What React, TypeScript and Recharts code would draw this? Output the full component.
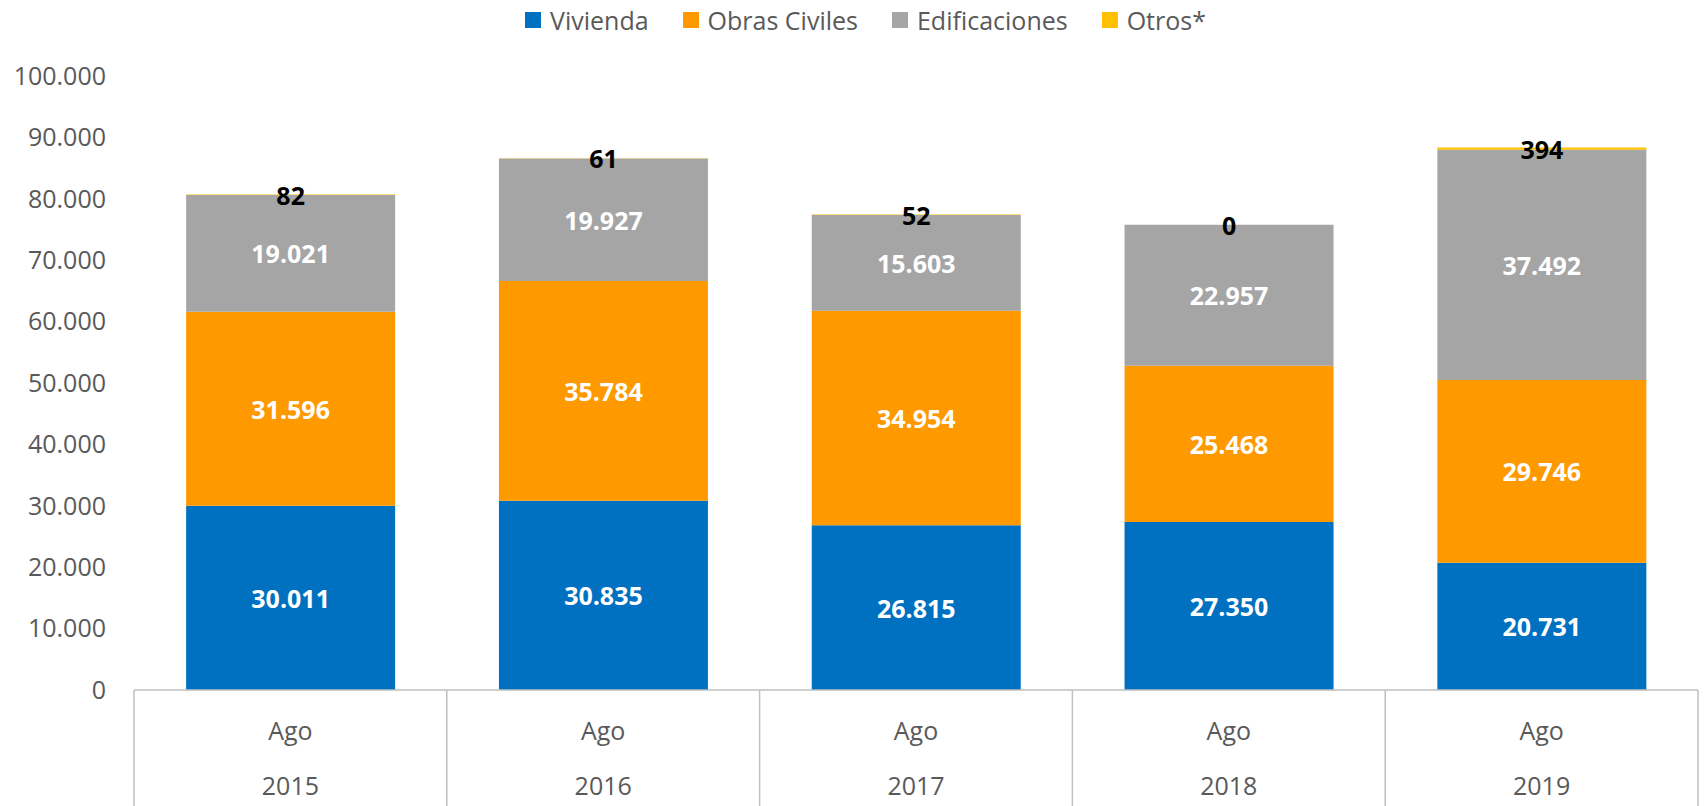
import React from 'react';
import { BarChart, Bar, XAxis, YAxis, LabelList } from 'recharts';

const years = ['2015', '2016', '2017', '2018', '2019'];
const month = 'Ago';
const vivienda = [30011, 30835, 26815, 27350, 20731];
const obrasCiviles = [31596, 35784, 34954, 25468, 29746];
const edificaciones = [19021, 19927, 15603, 22957, 37492];
const otros = [82, 61, 52, 0, 394];
const yTicks = [0, 10000, 20000, 30000, 40000, 50000, 60000, 70000, 80000, 90000, 100000];

const series = [
  { key: 'vivienda', name: 'Vivienda', color: '#0070C0' },
  { key: 'obrasCiviles', name: 'Obras Civiles', color: '#FF9900' },
  { key: 'edificaciones', name: 'Edificaciones', color: '#A5A5A5' },
  { key: 'otros', name: 'Otros*', color: '#FFC000' },
];

const data = years.map((year, i) => ({
  year,
  vivienda: vivienda[i],
  obrasCiviles: obrasCiviles[i],
  edificaciones: edificaciones[i],
  otros: otros[i],
}));

const FONT = '"Open Sans", "Noto Sans", sans-serif';
const TEXT = '#595959';
const LINE = '#BFBFBF';

const fmt = (v: any) => String(v).replace(/\B(?=(\d{3})+(?!\d))/g, '.');

const labelText = (x: number, y: number, value: any, color: string, key: string) => (
  <text key={key} x={x} y={y} textAnchor="middle" dominantBaseline="central" fill={color} fontSize={25} fontWeight="bold">
    {fmt(value)}
  </text>
);

const segmentLabel = (props: any) => {
  const { viewBox, value } = props;
  if (!viewBox || value === undefined || value === null) return null;
  return labelText(viewBox.x + viewBox.width / 2, viewBox.y + viewBox.height / 2, value, '#FFFFFF', 'v');
};

// the grey segment also carries the "Otros" label just above it, because a
// zero-height Otros segment gets no label of its own
const edificacionesLabel = (props: any) => {
  const { viewBox, value, index } = props;
  if (!viewBox || value === undefined || value === null) return null;
  const cx = viewBox.x + viewBox.width / 2;
  const other = otros[index];
  const perUnit = viewBox.height / value;
  const otherH = other * perUnit;
  return (
    <g>
      {labelText(cx, viewBox.y + viewBox.height / 2, value, '#FFFFFF', 'e')}
      {other !== undefined && labelText(cx, viewBox.y - otherH / 2, other, '#000000', 'o')}
    </g>
  );
};

const CategoryTick = (props: any) => {
  const { x, y, payload, index, visibleTicksCount, width } = props;
  const band = (width || 1564) / (visibleTicksCount || 5);
  const left = x - band / 2;
  const right = x + band / 2;
  return (
    <g>
      <line x1={left} y1={y} x2={left} y2={y + 120} stroke={LINE} strokeWidth={1.5} />
      {index === visibleTicksCount - 1 && (
        <line x1={right} y1={y} x2={right} y2={y + 120} stroke={LINE} strokeWidth={1.5} />
      )}
      <text x={x} y={y + 40} textAnchor="middle" dominantBaseline="central" fill={TEXT} fontSize={25}>
        {month}
      </text>
      <text x={x} y={y + 95} textAnchor="middle" dominantBaseline="central" fill={TEXT} fontSize={25}>
        {payload.value}
      </text>
    </g>
  );
};

const ChartLegend = () => (
  <div
    style={{
      position: 'absolute',
      left: 525,
      top: 3,
      display: 'flex',
      alignItems: 'center',
      gap: 34,
      fontSize: 25,
      color: TEXT,
      fontFamily: FONT,
      whiteSpace: 'nowrap',
    }}
  >
    {series.map((s) => (
      <div key={s.key} style={{ display: 'flex', alignItems: 'center', gap: 9 }}>
        <span style={{ width: 16, height: 16, background: s.color, display: 'inline-block' }} />
        <span>{s.name}</span>
      </div>
    ))}
  </div>
);

export default function App() {
  return (
    <div style={{ position: 'absolute', left: 0, top: 0, width: 1707, height: 806, fontFamily: FONT, background: '#fff' }}>
      <ChartLegend />
      <BarChart
        width={1707}
        height={806}
        data={data}
        margin={{ top: 76, right: 9, left: 0, bottom: 0 }}
        barCategoryGap="16.67%"
      >
        <XAxis
          dataKey="year"
          height={116}
          interval={0}
          tickLine={false}
          tickSize={0}
          tickMargin={0}
          axisLine={{ stroke: LINE, strokeWidth: 1.5 }}
          tick={<CategoryTick />}
        />
        <YAxis
          width={134}
          domain={[0, 100000]}
          ticks={yTicks}
          interval={0}
          axisLine={false}
          tickLine={false}
          tickSize={0}
          tickMargin={28}
          tickFormatter={fmt}
          tick={{ fill: TEXT, fontSize: 25 }}
        />
        {series.map((s) => (
          <Bar key={s.key} dataKey={s.key} name={s.name} stackId="total" fill={s.color} isAnimationActive={false}>
            {s.key !== 'otros' && (
              <LabelList
                dataKey={s.key}
                position="center"
                content={s.key === 'edificaciones' ? edificacionesLabel : segmentLabel}
              />
            )}
          </Bar>
        ))}
      </BarChart>
    </div>
  );
}
